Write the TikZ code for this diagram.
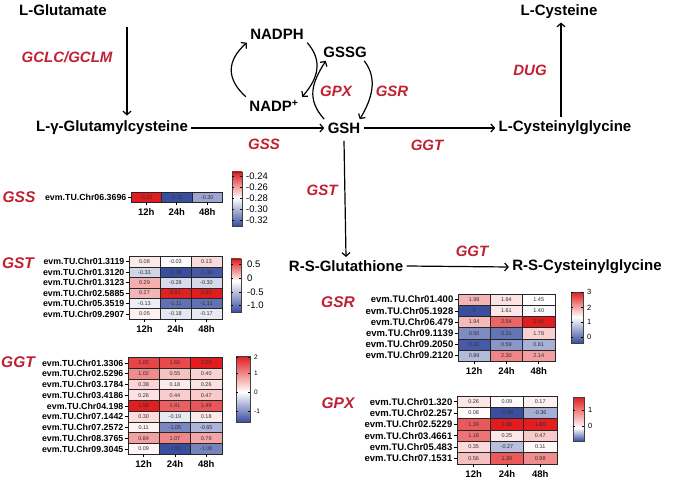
\documentclass[tikz,border=0pt]{standalone}
\usepackage{fontspec}
\setmainfont{Liberation Sans}
\usepackage{tikz}
\usetikzlibrary{arrows.meta,calc}

\definecolor{enzred}{RGB}{192,32,48}
\definecolor{hmred}{RGB}{226,28,30}
\definecolor{hmblue}{RGB}{58,78,160}

% cell colour: value, white point, low end, high end
\newcommand{\hmcolor}[4]{%
  \pgfmathparse{(#1)>(#2) ? min(100,100*((#1)-(#2))/((#4)-(#2))) : -min(100,100*((#2)-(#1))/((#2)-(#3)))}%
  \pgfmathsetmacro{\hmp}{\pgfmathresult}%
  \ifdim\hmp pt>0pt \colorlet{hmc}{hmred!\hmp!white}%
  \else\pgfmathsetmacro{\hmp}{-\hmp}\colorlet{hmc}{hmblue!\hmp!white}\fi}

% heatmap at the scope origin: name, cell w, cell h, white point, low, high, rows, row count
\newcommand{\heatmap}[8]{%
  \foreach \gene/\va/\vb/\vc [count=\row from 0] in {#7}{
    \node[gene, anchor=east] (#1g\row) at (-4.5, \row*#3+#3/2) {\gene};
    \draw[hmtick] (-3.5, \row*#3+#3/2) -- (0, \row*#3+#3/2);
    \foreach \v [count=\col from 0] in {\va,\vb,\vc}{
      \hmcolor{\v}{#4}{#5}{#6}
      \node[hmcell, fill=hmc, minimum width=#2, minimum height=#3] (#1c\row\col)
        at (\col*#2+#2/2, \row*#3+#3/2) {\v};
    }
  }
  \foreach \t [count=\col from 0] in {12h,24h,48h}{
    \draw[hmtick] (\col*#2+#2/2, #8*#3) -- ++(0,3);
    \node[hlab] (#1t\col) at (\col*#2+#2/2, #8*#3+10) {\t};
  }}

% colour bar: left x, top, white level, bottom, width
\newcommand{\hmbar}[5]{%
  \shade[top color=hmred, bottom color=white] (#1,#2) rectangle (#1+#5,#3);
  \shade[top color=white, bottom color=hmblue] (#1,#3) rectangle (#1+#5,#4);
  \draw[line width=0.8pt, black!75] (#1,#2) rectangle (#1+#5,#4);}

\begin{document}
\begin{tikzpicture}[x=1pt, y=-1pt,
  met/.style={font=\bfseries\fontsize{15}{17}\selectfont},
  enz/.style={text=enzred, font=\bfseries\itshape\fontsize{15}{17}\selectfont},
  hmname/.style={text=enzred, font=\bfseries\itshape\fontsize{15.5}{17}\selectfont},
  flow/.style={line width=1.2pt, -{Straight Barb[length=3.5pt,width=8pt]}},
  gene/.style={font=\bfseries\fontsize{8.8}{9}\selectfont, inner sep=0pt},
  hlab/.style={font=\bfseries\fontsize{9.5}{10}\selectfont, inner sep=0pt},
  hmcell/.style={draw=black!85, line width=0.6pt, inner sep=0pt, text=black!80,
    font=\fontsize{5.5}{6}\selectfont},
  hmtick/.style={line width=0.6pt},
  barlab/.style={anchor=west, inner sep=0pt}]
  \useasboundingbox (0,0) rectangle (685,478);

  % pathway
  \node[met] (glu) at (63,10) {L-Glutamate};
  \node[met] (glc) at (112,128) {L-γ-Glutamylcysteine};
  \node[met] (gsh) at (344,128) {GSH};
  \node[met] (cysgly) at (565,128) {L-Cysteinylglycine};
  \node[met] (cys) at (559,12) {L-Cysteine};
  \node[met] (rsg) at (346,266) {R-S-Glutathione};
  \node[met] (rscg) at (587,267) {R-S-Cysteinylglycine};
  \node[met] (nadph) at (277,34) {NADPH};
  \node[met] (gssg) at (345,52) {GSSG};
  \node[met] (nadp) at (274,106) {NADP\textsuperscript{+}};

  \node[enz] (gclc) at (67,57) {GCLC/GCLM};
  \node[enz] (gss) at (264,144) {GSS};
  \node[enz] (ggt) at (427,145) {GGT};
  \node[enz] (dug) at (530,70) {DUG};
  \node[enz] (gst) at (322,190) {GST};
  \node[enz] (ggtb) at (472,251) {GGT};
  \node[enz] (gpx) at (336,91) {GPX};
  \node[enz] (gsr) at (392,91) {GSR};

  \draw[flow] ([xshift=64pt,yshift=-8pt]glu.south) -- ([xshift=15pt,yshift=2pt]glc.north);
  \draw[flow] (glc.east) -- (gsh.west);
  \draw[flow] (gsh.east) -- (cysgly.west);
  \draw[flow] ([xshift=-4pt]cysgly.north) -- ([xshift=2pt]cys.south);
  \draw[flow] ([yshift=-4pt]gsh.south) -- (rsg.north);
  \draw[flow] (rsg.east) -- (rscg.west);

  % NADPH / GSSG cycle
  \draw[flow] (nadp.north west) .. controls +(-20,-18) and +(-20,18) .. (nadph.south west);
  \draw[flow] (nadph.south east) .. controls +(16,18) and +(16,-18) .. (nadp.north east);
  \draw[flow] (gsh.north west) .. controls +(-18,-20) and +(-14,22) .. ([xshift=6pt]gssg.south west);
  \draw[flow] ([xshift=-6pt]gssg.south east) .. controls +(14,18) and +(12,-20) .. ([xshift=-4pt]gsh.north east);

  % GSS heatmap
  \node[hmname] (hgss) at (19,197) {GSS};
  \begin{scope}[shift={(131,192)}]
    \heatmap{gss}{30.5}{10.5}{-0.28}{-0.32}{-0.23}{evm.TU.Chr06.3696/-0.23/-0.32/-0.30}{1}
  \end{scope}
  \hmbar{232}{172}{198}{226}{10}
  \foreach \y/\t [count=\i] in {176/-0.24,187/-0.26,198/-0.28,209/-0.30,220/-0.32}{
    \draw[hmtick] (232,\y) -- ++(2,0) (242,\y) -- ++(-2,0);
    \node[barlab, font=\fontsize{9.5}{10}\selectfont] (gssb\i) at (246,\y) {\t};
  }

  % GST heatmap
  \node[hmname] (hgst) at (18,263) {GST};
  \begin{scope}[shift={(129,256.5)}]
    \heatmap{gst}{31}{10.45}{0}{-1.38}{0.82}{
      evm.TU.Chr01.3119/0.08/-0.03/0.13,
      evm.TU.Chr01.3120/-0.33/-1.38/-1.30,
      evm.TU.Chr01.3123/0.29/-0.28/-0.30,
      evm.TU.Chr02.5885/0.27/0.81/0.82,
      evm.TU.Chr05.3519/-0.13/-1.11/-1.11,
      evm.TU.Chr09.2907/0.05/-0.18/-0.17}{6}
  \end{scope}
  \hmbar{231}{259}{281}{312}{10}
  \foreach \y/\t [count=\i] in {264/0.5,278/0,292/-0.5,305/-1.0}{
    \draw[hmtick] (231,\y) -- ++(2,0) (241,\y) -- ++(-2,0);
    \node[barlab, font=\fontsize{9.5}{10}\selectfont] (gstb\i) at (247,\y) {\t};
  }

  % GGT heatmap
  \node[hmname] (hggt) at (18,362) {GGT};
  \begin{scope}[shift={(128,357.5)}]
    \heatmap{ggt}{31.3}{10.75}{0}{-1.55}{2.0}{
      evm.TU.Chr01.3306/1.65/1.60/2.00,
      evm.TU.Chr02.5296/1.02/0.55/0.40,
      evm.TU.Chr03.1784/0.38/0.18/0.26,
      evm.TU.Chr03.4186/0.26/0.44/0.47,
      evm.TU.Chr04.198/1.98/1.41/1.49,
      evm.TU.Chr07.1442/0.30/-0.19/0.18,
      evm.TU.Chr07.2572/0.11/-1.05/-0.65,
      evm.TU.Chr08.3765/0.84/1.07/0.79,
      evm.TU.Chr09.3045/0.09/-1.55/-1.08}{9}
  \end{scope}
  \hmbar{236}{356}{392}{422}{14}
  \foreach \y/\t [count=\i] in {357/2,373/1,392/0,411/-1}{
    \draw[hmtick] (236,\y) -- ++(2,0) (250,\y) -- ++(-2,0);
    \node[barlab, font=\fontsize{6.5}{7}\selectfont] (ggtb\i) at (254,\y) {\t};
  }

  % GSR heatmap
  \node[hmname] (hgsr) at (338,302) {GSR};
  \begin{scope}[shift={(458,294)}, gene/.append style={font=\bfseries\fontsize{9.5}{10}\selectfont}]
    \heatmap{gsr}{32.3}{11.2}{1.45}{0}{3.05}{
      evm.TU.Chr01.400/1.98/1.64/1.45,
      evm.TU.Chr05.1928/0/1.61/1.40,
      evm.TU.Chr06.479/1.94/2.54/3.05,
      evm.TU.Chr09.1139/0.50/0.31/1.78,
      evm.TU.Chr09.2050/0.10/0.59/0.81,
      evm.TU.Chr09.2120/0.89/2.30/2.14}{6}
  \end{scope}
  \hmbar{571}{292}{317}{343}{12}
  \foreach \y/\t [count=\i] in {292/3,307.5/2,322/1,337/0}{
    \draw[hmtick] (571,\y) -- ++(2,0) (583,\y) -- ++(-2,0);
    \node[barlab, font=\fontsize{7.5}{8}\selectfont] (gsrb\i) at (587,\y) {\t};
  }

  % GPX heatmap
  \node[hmname] (hgpx) at (338,403) {GPX};
  \begin{scope}[shift={(457,396)}, gene/.append style={font=\bfseries\fontsize{9.5}{10}\selectfont}]
    \heatmap{gpx}{33.3}{11.35}{0.05}{-0.85}{1.88}{
      evm.TU.Chr01.320/0.26/0.09/0.17,
      evm.TU.Chr02.257/0.08/-0.85/-0.36,
      evm.TU.Chr02.5229/1.39/1.88/1.86,
      evm.TU.Chr03.4661/1.18/0.25/0.47,
      evm.TU.Chr05.483/0.35/-0.27/0.11,
      evm.TU.Chr07.1531/0.56/1.39/0.98}{6}
  \end{scope}
  \hmbar{573}{397}{428}{441}{11}
  \foreach \y/\t [count=\i] in {410/1,426/0}{
    \draw[hmtick] (573,\y) -- ++(2,0) (584,\y) -- ++(-2,0);
    \node[barlab, font=\fontsize{7.5}{8}\selectfont] (gpxb\i) at (588,\y) {\t};
  }
\end{tikzpicture}
\end{document}
